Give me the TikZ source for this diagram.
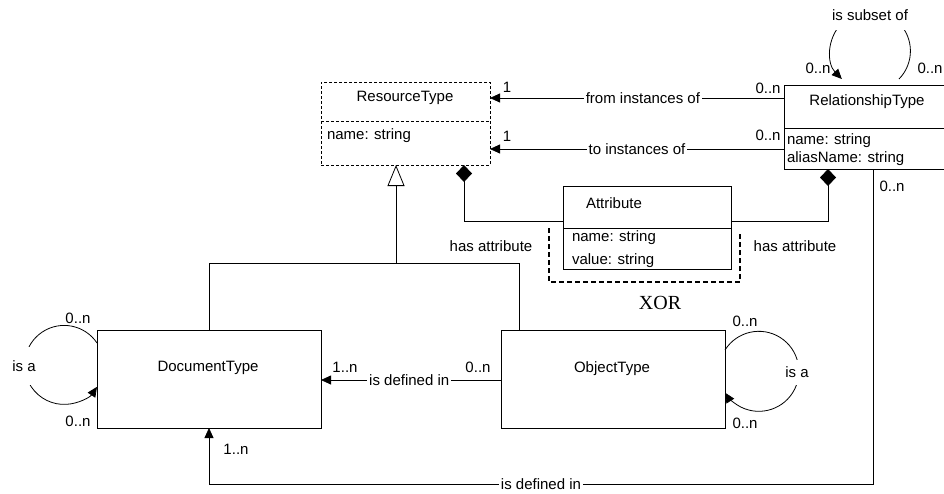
\documentclass[tikz,border=0pt]{standalone}
\usepackage{fontspec}
\setmainfont{Liberation Sans}
\newfontfamily\xorfont{Liberation Serif}
\usetikzlibrary{arrows.meta,calc}
\begin{document}
\begin{tikzpicture}[x=1pt,y=-1pt,
  every node/.style={font=\fontsize{15}{17}\selectfont, inner sep=0pt, outer sep=0pt},
  box/.style={draw, line width=0.8pt, rectangle, anchor=north west},
  lbl/.style={fill=white, inner sep=2pt},
  txt/.style={anchor=west},
  conn/.style={line width=0.8pt},
  arr/.style={conn, -{Triangle[length=10pt,width=9pt]}},
  comp/.style={conn, {Diamond[length=17pt,width=16pt]}-},
  gen/.style={conn, -{Triangle[open,length=21pt,width=17pt]}},
  rtdash/.style={dash pattern=on 3pt off 2pt},
  xordash/.style={line width=1.2pt, dash pattern=on 5pt off 3pt}]
\useasboundingbox (0,0) rectangle (944,493);
\clip (0,0) rectangle (944,493);

% helper coordinates
\coordinate (y98) at (0,98);
\coordinate (y121) at (0,121);
\coordinate (y128) at (0,128);
\coordinate (y149) at (0,149);
\coordinate (y221) at (0,221);
\coordinate (y228) at (0,228);
\coordinate (y263) at (0,263);
\coordinate (y343) at (0,343);
\coordinate (y350) at (0,350);
\coordinate (y380) at (0,380);
\coordinate (y484) at (0,484);
\coordinate (x209) at (209,0);
\coordinate (x396) at (396,0);
\coordinate (x464) at (464,0);
\coordinate (x519) at (519,0);
\coordinate (x828) at (828,0);
\coordinate (x873) at (873,0);
\coordinate (x899) at (899,0);

% ResourceType
\node[box, rtdash, minimum width=169pt, minimum height=83pt] (rt) at (321,82) {};
\draw[line width=0.8pt, rtdash] (rt.west |- y121) -- (rt.east |- y121);
\node (rtname) at (405,98) {ResourceType};
\node[txt] (rtattr) at (327,136) {name: string};

% RelationshipType (right side runs off the picture)
\node[minimum width=180pt, minimum height=84pt, anchor=north west] (rel) at (784,85) {};
\draw[line width=0.8pt] (rel.north east) -- (rel.north west) -- (rel.south west) -- (rel.south east);
\draw[line width=0.8pt] (rel.west |- y128) -- (rel.east |- y128);
\node (relname) at (867,102) {RelationshipType};
\node[txt] (relattr1) at (787,141) {name: string};
\node[txt] (relattr2) at (787,159) {aliasName: string};

% Attribute
\node[box, minimum width=168pt, minimum height=83pt] (attr) at (563,186) {};
\draw[line width=0.8pt] (attr.west |- y228) -- (attr.east |- y228);
\node[txt] (attrname) at (586,203) {Attribute};
\node[txt] (attra1) at (572,238) {name: string};
\node[txt] (attra2) at (572,261) {value: string};

% XOR bracket
\draw[xordash] (549,228) -- (549,282) -- (740,282) -- (740,232);
\node[font=\xorfont\fontsize{20}{22}\selectfont] (xor) at (660,303) {XOR};

% DocumentType, ObjectType
\node[box, minimum width=224pt, minimum height=98pt] (doc) at (97,330) {};
\node (docname) at (208,368) {DocumentType};
\node[box, minimum width=224pt, minimum height=98pt] (obj) at (501,330) {};
\node (objname) at (612,369) {ObjectType};

% from / to instances of
\draw[arr] (rel.west |- y98) -- node[lbl, pos=0.48] {from instances of} (rt.east |- y98);
\draw[arr] (rel.west |- y149) -- node[lbl, pos=0.5] {to instances of} (rt.east |- y149);
\node (m1a) at (507,87) {1};
\node (m1b) at (507,136) {1};
\node (m2a) at (768,88) {0..n};
\node (m2b) at (768,135) {0..n};

% has attribute (composition)
\draw[comp] (rt.south -| x464) -- (x464 |- y221) -- (attr.west |- y221);
\draw[comp] (rel.south -| x828) -- (x828 |- y221) -- (attr.east |- y221);
\node (ha1) at (491,246) {has attribute};
\node (ha2) at (795,246) {has attribute};

% generalization
\draw[conn] (doc.north -| x209) -- (x209 |- y263) -- (x519 |- y263) -- (obj.north -| x519);
\draw[gen] (x396 |- y263) -- (rt.south -| x396);

% is defined in (ObjectType -> DocumentType)
\draw[arr] (obj.west |- y380) -- node[lbl, pos=0.51] {is defined in} (doc.east |- y380);
\node (m3a) at (345,367) {1..n};
\node (m3b) at (478,367) {0..n};

% is defined in (RelationshipType -> DocumentType)
\draw[arr] (rel.south -| x873) -- (x873 |- y484) -- node[lbl] {is defined in} (x209 |- y484) -- (doc.south -| x209);
\node (m4a) at (236,449) {1..n};
\node (m4b) at (892,186) {0..n};

% is a loop on DocumentType
\draw[arr] (doc.west |- y343) arc[start angle=-33.7, end angle=-326.3, radius=39.5];
\node[lbl, inner ysep=13pt] (isa1) at (24,366) {is a};
\node (m5a) at (78,318) {0..n};
\node (m5b) at (78,421) {0..n};

% is a loop on ObjectType
\draw[arr] (obj.east |- y350) arc[start angle=-147.8, end angle=147.8, radius=40];
\node[lbl, inner ysep=7pt] (isa2) at (797,372) {is a};
\node (m6a) at (745,321) {0..n};
\node (m6b) at (745,423) {0..n};

% is subset of loop on RelationshipType
\draw[arr] ($(rel.north -| x899)+(0,-6)$) arc[start angle=44.4, end angle=-224.4, radius=40];
\node[lbl, inner ysep=9pt] (sub) at (870,15) {is subset of};
\node (m7a) at (818,68) {0..n};
\node (m7b) at (930,68) {0..n};
\end{tikzpicture}
\end{document}
